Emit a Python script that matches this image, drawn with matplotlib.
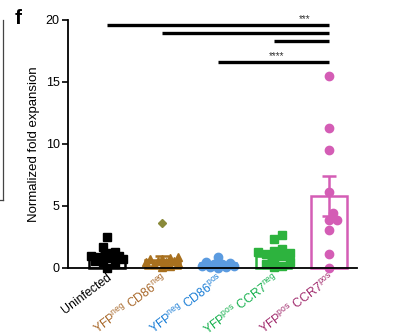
import numpy as np
import matplotlib
matplotlib.use("Agg")
import matplotlib.pyplot as plt
from matplotlib.lines import Line2D

plt.rcParams['font.family'] = ['Liberation Sans', 'DejaVu Sans']
plt.rcParams['mathtext.fontset'] = 'custom'
plt.rcParams['mathtext.rm'] = 'Liberation Sans'
plt.rcParams['mathtext.it'] = 'Liberation Sans'

# ---- data ----
categories = ["Uninfected",
              r"YFP$^{\mathrm{neg}}$ CD86$^{\mathrm{neg}}$",
              r"YFP$^{\mathrm{neg}}$ CD86$^{\mathrm{pos}}$",
              r"YFP$^{\mathrm{pos}}$ CCR7$^{\mathrm{neg}}$",
              r"YFP$^{\mathrm{pos}}$ CCR7$^{\mathrm{pos}}$"]
uninfected = [2.5, 1.7, 1.3, 1.2, 1.0, 1.0, 0.9, 0.8, 0.7, 0.6, 0.5, 0.3, 0.0]
cd86neg = [0.9, 0.8, 0.7, 0.7, 0.6, 0.6, 0.5, 0.5, 0.4, 0.3, 0.2, 0.1]
cd86neg_outlier = [3.6]
cd86pos = [0.9, 0.5, 0.4, 0.3, 0.3, 0.2, 0.2, 0.1, 0.1, 0.0]
ccr7neg = [2.7, 2.3, 1.5, 1.4, 1.3, 1.2, 1.1, 1.0, 0.8, 0.5, 0.3, 0.2, 0.1]
ccr7pos = [15.5, 11.3, 9.5, 6.1, 4.4, 3.9, 3.9, 3.1, 1.1, 0.0]
means = [1.0, 0.65, 0.4, 1.0, 5.8]
sems = [0.3, 0.35, 0.1, 0.3, 1.6]
sig_pairs = [(0, 4), (1, 4), (3, 4), (2, 4)]
sig_heights = [19.57, 18.93, 18.28, 16.59]
sig_labels = ["***", "", "", "****"]

groups = [uninfected, cd86neg, cd86pos, ccr7neg, ccr7pos]
marker_colors = ["#000000", "#A8701E", "#5B9BE0", "#2DB33E", "#D45DB5"]
label_colors = ["#000000", "#A8682A", "#1B7ED6", "#16B04E", "#A02A6C"]
markers = ["s", "^", "o", "s", "o"]

W, H = 401, 336
fig = plt.figure(figsize=(W / 100, H / 100), dpi=100)
ax = fig.add_axes([68 / W, 1 - 268 / H, (357 - 68) / W, (268 - 20) / H])
xmin, xmax = -0.7, 4.5
ax.set_xlim(xmin, xmax)
ax.set_ylim(0, 20)

px_per_x = (357 - 68) / (xmax - xmin)
px_per_y = (268 - 20) / 20.0


def swarm(vals, diam, maxoff, step):
    placed = []
    offs = np.zeros(len(vals))
    order = np.argsort(vals)
    cands = [0.0]
    s = 1
    while s * step <= maxoff:
        cands += [s * step, -s * step]
        s += 1
    for i in order:
        y = vals[i] * px_per_y
        best, bestd = 0.0, -1.0
        for c in cands:
            d = min([np.hypot(c - px, y - py) for px, py in placed] + [1e9])
            if d >= diam:
                best = c
                break
            if d > bestd:
                best, bestd = c, d
        placed.append((best, y))
        offs[i] = best / px_per_x
    return offs

# bars
for i, (m, s) in enumerate(zip(means, sems)):
    ax.bar(i, m, width=0.64, facecolor='none', edgecolor=marker_colors[i], lw=1.8, zorder=2, clip_on=False)
    ax.errorbar(i, m, yerr=s, color=marker_colors[i], capsize=5, capthick=1.8, lw=1.8, zorder=4, clip_on=False)

# points
for i, vals in enumerate(groups):
    vals = np.array(vals, dtype=float)
    offs = swarm(vals, 7.0, 16, 4.0)
    ax.plot(i + offs, vals, ls='none', marker=markers[i], ms=6.0, color=marker_colors[i],
            mec=marker_colors[i], zorder=3, clip_on=False)
ax.plot([1] * len(cd86neg_outlier), cd86neg_outlier, ls='none', marker='D', ms=4,
        color='#8A8A3A', zorder=3, clip_on=False)

# significance lines
star_x = {(0, 4): 3.55, (2, 4): 3.05}
for (a, b), h, lab in zip(sig_pairs, sig_heights, sig_labels):
    ax.plot([a, b], [h, h], color='black', lw=2.4, solid_capstyle='butt', clip_on=False, zorder=5)
    if lab:
        ax.text(star_x[(a, b)], h + 0.1, lab, ha='center', va='bottom', fontsize=7, color='#333333')

# axes styling
for sp in ['top', 'right']:
    ax.spines[sp].set_visible(False)
ax.spines['left'].set_linewidth(1.3)
ax.spines['bottom'].set_linewidth(1.3)
ax.spines['bottom'].set_zorder(6)
ax.set_yticks([0, 5, 10, 15, 20])
ax.tick_params(axis='y', labelsize=9, length=4, width=1.2, pad=2)
ax.set_xticks(range(5))
ax.set_xticklabels(categories, rotation=37, ha='right', rotation_mode='anchor', fontsize=8.8)
ax.tick_params(axis='x', length=2, width=1, pad=0.5)
for t, c in zip(ax.get_xticklabels(), label_colors):
    t.set_color(c)
ax.set_ylabel("Normalized fold expansion", fontsize=9.5, labelpad=4)

# panel letter and neighbouring panel border
fig.text(15 / W, 1 - 18 / H, "f", fontsize=15, fontweight='bold', ha='left', va='center')
fig.add_artist(Line2D([3 / W, 3 / W], [1 - 20 / H, 1 - 200 / H], color='#444444', lw=0.9))
fig.add_artist(Line2D([0, 3 / W], [1 - 200 / H, 1 - 200 / H], color='#444444', lw=0.9))

fig.savefig("out.png", dpi=100)
